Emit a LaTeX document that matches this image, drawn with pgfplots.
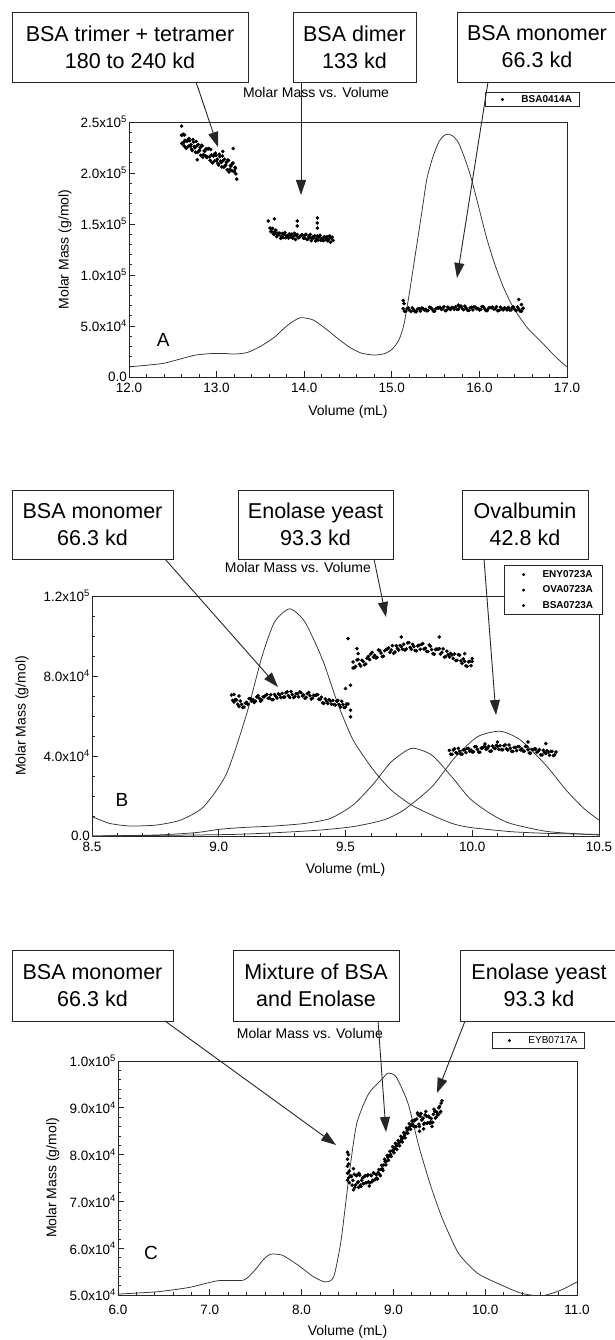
\documentclass[border=0pt]{standalone}
\usepackage{fontspec}
\setmainfont{Liberation Sans}
\usepackage{pgfplots}
\pgfplotsset{compat=1.18}
\usetikzlibrary{arrows.meta}

\pgfplotsset{
  panel/.style={
    scale only axis, anchor=south west,
    axis line style={line width=0.9pt, black!85},
    tick style={line width=0.7pt, black!85},
    major tick length=6pt, minor tick length=3pt,
    tick pos=left, tick align=inside,
    scaled ticks=false,
    tick label style={font=\fontsize{13.5}{14}\selectfont, black},
    yticklabel style={inner sep=2pt},
    xticklabel style={yshift=-3pt},
    xlabel={Volume (mL)}, ylabel={Molar Mass (g/mol)},
    title={Molar Mass vs. Volume},
    label style={font=\fontsize{14}{16}\selectfont},
    title style={font=\fontsize{14}{16}\selectfont, anchor=center},
    legend style={draw=black!85, line width=0.7pt, font=\fontsize{10}{11}\selectfont\bfseries,
      anchor=north west, legend cell align=left, inner xsep=5pt, inner ysep=1pt, row sep=0pt,
      /tikz/column 1/.style={column sep=7pt}},
    legend image code/.code={\path[draw=none,fill=none] (0pt,-2pt) rectangle (22pt,2pt); \draw[##1, mark size=1.1pt] plot coordinates {(12pt,0pt)};},
  },
  curve/.style={line width=0.75pt, black!80, smooth, tension=0.4, no marks, forget plot},
  dots/.style={only marks, mark=*, mark size=1.6pt, black},
}

\begin{document}
\begin{tikzpicture}
\useasboundingbox (0pt,0pt) rectangle (615pt,-1340pt);

% ================= Panel A =================
\begin{axis}[panel, at={(129pt,-377pt)}, width=438pt, height=255pt,
  xmin=12, xmax=17, ymin=0, ymax=250000,
  xtick={12,13,14,15,16,17}, xticklabels={12.0,13.0,14.0,15.0,16.0,17.0},
  ytick={0,50000,100000,150000,200000,250000},
  yticklabels={0.0,5.0x10\textsuperscript{4},1.0x10\textsuperscript{5},1.5x10\textsuperscript{5},2.0x10\textsuperscript{5},2.5x10\textsuperscript{5}},
  minor x tick num=4, minor y tick num=4,
  xlabel style={at={(axis description cs:0.5,-0.137)}, anchor=center},
  ylabel style={at={(axis description cs:-0.146,0.5)}, anchor=center},
  title style={at={(axis description cs:0.427,1.094)}},
  legend style={at={(axis description cs:0.813,1.118)}},
]
\addplot[curve] coordinates {(12.00,1.0e4)(12.20,1.15e4)(12.40,1.35e4)(12.60,1.8e4)(12.76,2.15e4)(12.94,2.3e4)(13.10,2.3e4)(13.21,2.25e4)(13.35,2.4e4)(13.50,3.0e4)(13.66,3.9e4)(13.80,5.0e4)(13.95,5.8e4)(14.10,5.6e4)(14.25,4.7e4)(14.38,3.8e4)(14.52,2.9e4)(14.65,2.35e4)(14.80,2.15e4)(14.92,2.3e4)(15.00,2.7e4)(15.08,3.6e4)(15.14,5.2e4)(15.20,8.2e4)(15.27,1.21e5)(15.34,1.60e5)(15.40,1.94e5)(15.47,2.16e5)(15.54,2.31e5)(15.60,2.37e5)(15.65,2.38e5)(15.70,2.36e5)(15.76,2.30e5)(15.83,2.15e5)(15.90,1.97e5)(16.00,1.64e5)(16.08,1.37e5)(16.17,1.12e5)(16.26,9.1e4)(16.35,7.4e4)(16.44,6.1e4)(16.55,4.8e4)(16.70,3.5e4)(16.80,2.6e4)(16.88,1.9e4)(16.95,1.35e4)(17.00,1.0e4)};
\addplot[dots] coordinates {
(12.600,2.370e5)(12.610,2.295e5)(12.620,2.380e5)(12.630,2.266e5)(12.640,2.321e5)(12.655,2.244e5)(12.670,2.326e5)(12.685,2.339e5)(12.700,2.262e5)(12.715,2.235e5)(12.730,2.328e5)(12.745,2.260e5)(12.760,2.203e5)(12.775,2.266e5)(12.790,2.279e5)(12.805,2.222e5)(12.820,2.174e5)(12.835,2.267e5)(12.850,2.180e5)(12.865,2.213e5)(12.880,2.236e5)(12.895,2.158e5)(12.910,2.241e5)(12.925,2.124e5)(12.940,2.177e5)(12.955,2.100e5)(12.970,2.182e5)(12.985,2.195e5)(13.000,2.118e5)(13.015,2.091e5)(13.030,2.184e5)(13.045,2.116e5)(13.060,2.059e5)(13.075,2.122e5)(13.090,2.135e5)(13.105,2.078e5)(13.120,2.030e5)(13.135,2.123e5)(13.150,2.036e5)(13.165,2.069e5)(13.180,2.092e5)(13.195,2.014e5)(13.210,2.057e5)(13.220,1.992e5)
(12.605,2.288e5)(12.615,2.373e5)(12.625,2.298e5)(12.635,2.373e5)(12.6475,2.247e5)(12.6625,2.310e5)(12.6775,2.263e5)(12.6925,2.316e5)(12.7075,2.278e5)(12.7225,2.221e5)(12.7375,2.304e5)(12.7525,2.247e5)(12.7675,2.310e5)(12.7825,2.202e5)(12.7975,2.215e5)(12.8125,2.248e5)(12.8275,2.271e5)(12.8425,2.154e5)(12.8575,2.216e5)(12.8725,2.169e5)(12.8875,2.152e5)(12.9025,2.235e5)(12.9175,2.158e5)(12.9325,2.230e5)(12.9475,2.103e5)(12.9625,2.166e5)(12.9775,2.119e5)(12.9925,2.172e5)(13.0075,2.134e5)(13.0225,2.077e5)(13.0375,2.160e5)(13.0525,2.103e5)(13.0675,2.166e5)(13.0825,2.058e5)(13.0975,2.071e5)(13.1125,2.104e5)(13.1275,2.127e5)(13.1425,2.010e5)(13.1575,2.072e5)(13.1725,2.025e5)(13.1875,2.098e5)(13.2025,2.021e5)(13.215,2.045e5)
(12.600,2.460e5)(12.780,2.130e5)(13.070,2.210e5)(13.190,2.240e5)(13.230,1.940e5)
(13.610,1.460e5)(13.625,1.423e5)(13.640,1.457e5)(13.655,1.400e5)(13.670,1.413e5)(13.685,1.376e5)(13.700,1.410e5)(13.720,1.410e5)(13.740,1.379e5)(13.760,1.367e5)(13.780,1.416e5)(13.800,1.385e5)(13.820,1.363e5)(13.840,1.392e5)(13.860,1.401e5)(13.880,1.379e5)(13.900,1.348e5)(13.920,1.397e5)(13.940,1.366e5)(13.960,1.384e5)(13.980,1.393e5)(14.000,1.362e5)(14.020,1.400e5)(14.040,1.349e5)(14.060,1.368e5)(14.080,1.336e5)(14.100,1.375e5)(14.120,1.384e5)(14.140,1.352e5)(14.160,1.341e5)(14.180,1.390e5)(14.200,1.359e5)(14.220,1.337e5)(14.240,1.366e5)(14.260,1.375e5)(14.280,1.353e5)(14.300,1.322e5)(14.320,1.371e5)(14.330,1.340e5)
(13.6175,1.427e5)(13.6325,1.450e5)(13.6475,1.403e5)(13.6625,1.426e5)(13.6775,1.440e5)(13.6925,1.393e5)(13.71,1.395e5)(13.73,1.359e5)(13.75,1.408e5)(13.77,1.397e5)(13.79,1.365e5)(13.81,1.384e5)(13.83,1.403e5)(13.85,1.372e5)(13.87,1.360e5)(13.89,1.409e5)(13.91,1.388e5)(13.93,1.366e5)(13.95,1.375e5)(13.97,1.394e5)(13.99,1.362e5)(14.01,1.391e5)(14.03,1.350e5)(14.05,1.378e5)(14.07,1.397e5)(14.09,1.356e5)(14.11,1.364e5)(14.13,1.333e5)(14.15,1.382e5)(14.17,1.371e5)(14.19,1.339e5)(14.21,1.358e5)(14.23,1.377e5)(14.25,1.345e5)(14.27,1.334e5)(14.29,1.383e5)(14.31,1.361e5)
(13.590,1.530e5)(13.660,1.550e5)(13.920,1.530e5)(13.920,1.480e5)(14.150,1.560e5)(14.150,1.510e5)(14.150,1.460e5)
(15.13,67.0e3)(15.16,64.6e3)(15.19,67.7e3)(15.22,64.3e3)(15.25,65.9e3)(15.28,64.0e3)(15.31,67.0e3)(15.34,67.6e3)(15.37,65.7e3)(15.40,64.8e3)(15.43,68.4e3)(15.46,66.5e3)(15.49,64.6e3)(15.52,67.7e3)(15.55,68.3e3)(15.58,66.8e3)(15.61,64.9e3)(15.64,68.5e3)(15.67,66.1e3)(15.70,67.7e3)(15.73,68.8e3)(15.76,66.4e3)(15.79,69.5e3)(15.82,66.0e3)(15.85,67.4e3)(15.88,65.4e3)(15.91,68.3e3)(15.94,68.8e3)(15.97,66.8e3)(16.00,65.7e3)(16.03,69.2e3)(16.06,67.1e3)(16.09,65.1e3)(16.12,68.0e3)(16.15,68.5e3)(16.18,66.9e3)(16.21,64.9e3)(16.24,68.4e3)(16.27,65.8e3)(16.30,67.3e3)(16.33,68.2e3)(16.36,65.7e3)(16.39,68.6e3)(16.42,65.1e3)(16.45,66.6e3)(16.48,64.5e3)(16.50,67.5e3)
(15.145,64.5e3)(15.175,67.1e3)(15.205,65.2e3)(15.235,67.8e3)(15.265,63.9e3)(15.295,66.5e3)(15.325,64.6e3)(15.355,67.2e3)(15.385,66.3e3)(15.415,65.4e3)(15.445,67.9e3)(15.475,64.5e3)(15.505,67.1e3)(15.535,67.7e3)(15.565,66.3e3)(15.595,68.9e3)(15.625,65.5e3)(15.655,67.1e3)(15.685,68.2e3)(15.715,66.3e3)(15.745,66.3e3)(15.775,68.9e3)(15.805,67.0e3)(15.835,69.5e3)(15.865,65.4e3)(15.895,67.9e3)(15.925,65.8e3)(15.955,68.3e3)(15.985,67.2e3)(16.015,66.2e3)(16.045,68.7e3)(16.075,65.1e3)(16.105,67.6e3)(16.135,68.0e3)(16.165,66.5e3)(16.195,68.9e3)(16.225,65.4e3)(16.255,66.9e3)(16.285,67.8e3)(16.315,65.8e3)(16.345,65.7e3)(16.375,68.2e3)(16.405,66.1e3)(16.435,68.6e3)(16.465,64.6e3)(16.495,67.0e3)
(15.13,75.0e3)(15.14,72.0e3)(16.45,76.0e3)(16.48,71.0e3)(15.76,70.5e3)
};
\addlegendentry{BSA0414A}
\node[font=\fontsize{19}{20}\selectfont] at (rel axis cs:0.078,0.145) {A};
\end{axis}

% ================= Panel B =================
\begin{axis}[panel, at={(92pt,-836pt)}, width=507pt, height=240pt,
  xmin=8.5, xmax=10.5, ymin=0, ymax=120000,
  xtick={8.5,9,9.5,10,10.5}, xticklabels={8.5,9.0,9.5,10.0,10.5},
  ytick={0,40000,80000,120000},
  yticklabels={0.0,4.0x10\textsuperscript{4},8.0x10\textsuperscript{4},1.2x10\textsuperscript{5}},
  minor x tick num=4, minor y tick num=3,
  xlabel style={at={(axis description cs:0.5,-0.142)}, anchor=center},
  ylabel style={at={(axis description cs:-0.138,0.5)}, anchor=center},
  title style={at={(axis description cs:0.406,1.092)}},
  legend style={at={(axis description cs:0.813,1.129)}, row sep=3pt, inner ysep=3pt, inner xsep=7pt},
]
\addplot[curve] coordinates {(8.50,9.7e3)(8.57,6.3e3)(8.65,5.0e3)(8.755,5.5e3)(8.85,8.0e3)(8.94,1.46e4)(9.03,3.1e4)(9.11,6.1e4)(9.17,8.95e4)(9.22,1.07e5)(9.28,1.136e5)(9.34,1.07e5)(9.41,8.8e4)(9.47,6.6e4)(9.53,4.8e4)(9.61,3.3e4)(9.68,2.3e4)(9.76,1.55e4)(9.84,1.05e4)(9.92,6.3e3)(9.99,4.3e3)(10.15,2.2e3)(10.30,1.3e3)(10.50,8e2)};
\addplot[curve] coordinates {(8.50,0)(8.755,5e2)(8.91,1.7e3)(9.00,3.3e3)(9.10,4.3e3)(9.22,5.0e3)(9.34,6.3e3)(9.44,8.8e3)(9.53,1.55e4)(9.61,2.6e4)(9.68,3.7e4)(9.76,4.38e4)(9.84,4.05e4)(9.92,2.95e4)(9.99,1.88e4)(10.07,1.13e4)(10.15,6.3e3)(10.30,2.2e3)(10.50,5e2)};
\addplot[curve] coordinates {(8.50,0)(9.06,8e2)(9.37,2.7e3)(9.53,4.7e3)(9.65,8.0e3)(9.73,1.3e4)(9.84,2.45e4)(9.93,3.9e4)(10.02,4.96e4)(10.11,5.24e4)(10.19,4.8e4)(10.29,3.55e4)(10.37,2.3e4)(10.44,1.38e4)(10.50,8.0e3)};
% Enolase
\addplot[dots] coordinates {
(9.53,87.0e3)(9.54,84.8e3)(9.55,88.2e3)(9.56,85.0e3)(9.57,87.2e3)(9.58,86.0e3)(9.59,89.8e3)(9.60,91.0e3)(9.61,89.5e3)(9.62,89.0e3)(9.63,93.0e3)(9.64,91.5e3)(9.65,89.9e3)(9.66,93.3e3)(9.67,94.1e3)(9.68,93.0e3)(9.69,91.3e3)(9.70,95.1e3)(9.71,93.0e3)(9.72,94.8e3)(9.73,95.9e3)(9.74,93.5e3)(9.75,96.7e3)(9.76,93.3e3)(9.77,94.7e3)(9.78,92.6e3)(9.79,95.4e3)(9.80,95.8e3)(9.81,93.5e3)(9.82,92.3e3)(9.83,95.5e3)(9.84,93.2e3)(9.85,90.9e3)(9.86,93.5e3)(9.87,93.7e3)(9.88,91.8e3)(9.89,89.4e3)(9.90,92.4e3)(9.91,89.5e3)(9.92,90.5e3)(9.93,91.0e3)(9.94,87.9e3)(9.95,90.4e3)(9.96,86.3e3)(9.97,87.3e3)(9.98,84.8e3)(9.99,87.3e3)(10.00,87.3e3)
(9.535,84.2e3)(9.545,88.0e3)(9.555,85.9e3)(9.565,87.9e3)(9.575,85.6e3)(9.585,88.9e3)(9.595,88.2e3)(9.605,91.8e3)(9.615,90.3e3)(9.625,89.3e3)(9.635,92.8e3)(9.645,89.7e3)(9.655,92.6e3)(9.665,93.5e3)(9.675,91.8e3)(9.685,95.2e3)(9.695,92.0e3)(9.705,93.8e3)(9.715,95.2e3)(9.725,93.4e3)(9.735,93.0e3)(9.745,96.6e3)(9.755,94.3e3)(9.765,95.8e3)(9.775,92.7e3)(9.785,95.0e3)(9.795,93.4e3)(9.805,96.2e3)(9.815,93.9e3)(9.825,92.2e3)(9.835,94.9e3)(9.845,91.1e3)(9.855,93.2e3)(9.865,93.4e3)(9.875,91.0e3)(9.885,93.6e3)(9.895,89.7e3)(9.905,90.7e3)(9.915,91.3e3)(9.925,88.8e3)(9.935,87.7e3)(9.945,90.7e3)(9.955,87.6e3)(9.965,88.6e3)(9.975,85.1e3)(9.985,87.1e3)(9.995,85.1e3)
(9.51,98.7e3)(9.545,93.7e3)(9.55,91.2e3)(9.72,99.5e3)(9.87,99.5e3)(9.97,91.2e3)(10.00,88.7e3)(9.53,84.0e3)
};
\addlegendentry{ENY0723A}
% Ovalbumin
\addplot[dots] coordinates {
(9.91,42.8e3)(9.92,40.9e3)(9.93,43.6e3)(9.94,41.2e3)(9.95,42.3e3)(9.96,41.0e3)(9.97,43.1e3)(9.98,43.7e3)(9.99,42.4e3)(10.00,42.0e3)(10.01,44.6e3)(10.02,43.3e3)(10.03,41.9e3)(10.04,44.0e3)(10.05,44.7e3)(10.06,43.8e3)(10.07,42.4e3)(10.08,45.0e3)(10.09,43.7e3)(10.10,44.8e3)(10.11,45.2e3)(10.12,43.1e3)(10.13,45.6e3)(10.14,43.0e3)(10.15,43.9e3)(10.16,42.3e3)(10.17,44.2e3)(10.18,44.7e3)(10.19,43.1e3)(10.20,42.5e3)(10.21,44.8e3)(10.22,43.1e3)(10.23,41.4e3)(10.24,43.2e3)(10.25,43.5e3)(10.26,42.3e3)(10.27,40.6e3)(10.28,42.9e3)(10.29,41.2e3)(10.30,42.0e3)(10.31,42.3e3)(10.32,40.2e3)(10.33,42.0e3)
(9.915,40.9e3)(9.925,43.0e3)(9.935,41.7e3)(9.945,43.8e3)(9.955,40.9e3)(9.965,43.1e3)(9.975,41.7e3)(9.985,43.8e3)(9.995,43.0e3)(10.005,42.1e3)(10.015,44.7e3)(10.025,41.9e3)(10.035,44.0e3)(10.045,44.6e3)(10.055,43.3e3)(10.065,44.9e3)(10.075,42.5e3)(10.085,44.1e3)(10.095,45.3e3)(10.105,43.3e3)(10.115,43.2e3)(10.125,45.1e3)(10.135,43.6e3)(10.145,45.5e3)(10.155,42.4e3)(10.165,44.3e3)(10.175,42.7e3)(10.185,44.7e3)(10.195,43.6e3)(10.205,42.4e3)(10.215,44.7e3)(10.225,41.5e3)(10.235,43.3e3)(10.245,43.6e3)(10.255,41.9e3)(10.265,43.2e3)(10.275,40.5e3)(10.285,41.8e3)(10.295,42.6e3)(10.305,40.4e3)(10.315,42.3e3)(10.325,40.6e3)
(10.10,47.0e3)(10.22,47.0e3)(10.29,46.2e3)(10.05,46.0e3)
};
\addlegendentry{OVA0723A}
% BSA
\addplot[dots] coordinates {
(9.05,70.5e3)(9.06,67.0e3)(9.07,68.0e3)(9.08,64.7e3)(9.09,65.8e3)(9.10,64.5e3)(9.11,66.8e3)(9.12,68.7e3)(9.13,67.5e3)(9.14,66.8e3)(9.15,69.5e3)(9.16,68.8e3)(9.17,68.0e3)(9.18,69.7e3)(9.19,70.8e3)(9.20,69.0e3)(9.21,68.1e3)(9.22,70.8e3)(9.23,69.0e3)(9.24,70.6e3)(9.25,71.3e3)(9.26,69.5e3)(9.27,72.1e3)(9.28,69.3e3)(9.29,70.7e3)(9.30,69.7e3)(9.31,71.1e3)(9.32,72.1e3)(9.33,70.0e3)(9.34,68.9e3)(9.35,71.2e3)(9.36,70.1e3)(9.37,68.9e3)(9.38,70.3e3)(9.39,70.7e3)(9.40,68.2e3)(9.41,66.6e3)(9.42,68.5e3)(9.43,66.3e3)(9.44,67.5e3)(9.45,67.8e3)(9.46,65.5e3)(9.47,67.8e3)(9.48,64.5e3)(9.49,65.8e3)(9.50,64.5e3)(9.51,66.0e3)
(9.055,67.8e3)(9.065,68.3e3)(9.075,65.9e3)(9.085,67.5e3)(9.095,64.2e3)(9.105,66.4e3)(9.115,65.8e3)(9.125,68.6e3)(9.135,68.2e3)(9.145,67.4e3)(9.155,70.2e3)(9.165,67.4e3)(9.175,69.6e3)(9.185,70.3e3)(9.195,68.9e3)(9.205,70.6e3)(9.215,68.2e3)(9.225,69.9e3)(9.235,71.1e3)(9.245,69.2e3)(9.255,69.4e3)(9.265,71.6e3)(9.275,70.2e3)(9.285,72.3e3)(9.295,69.2e3)(9.305,71.2e3)(9.315,69.6e3)(9.325,71.6e3)(9.335,70.5e3)(9.345,69.3e3)(9.355,71.7e3)(9.365,68.5e3)(9.375,70.4e3)(9.385,70.5e3)(9.395,68.5e3)(9.405,69.4e3)(9.415,66.3e3)(9.425,67.4e3)(9.435,68.2e3)(9.445,65.9e3)(9.455,65.7e3)(9.465,67.4e3)(9.475,65.7e3)(9.485,67.4e3)(9.495,64.2e3)(9.505,66.0e3)
(9.50,73.7e3)(9.52,75.4e3)(9.52,59.6e3)(9.52,62.9e3)(9.06,70.8e3)(9.08,70.0e3)
};
\addlegendentry{BSA0723A}
\node[font=\fontsize{19}{20}\selectfont] at (rel axis cs:0.059,0.15) {B};
\end{axis}

% ================= Panel C =================
\begin{axis}[panel, at={(118pt,-1295pt)}, width=459pt, height=234pt,
  xmin=6, xmax=11, ymin=50000, ymax=100000,
  xtick={6,7,8,9,10,11}, xticklabels={6.0,7.0,8.0,9.0,10.0,11.0},
  ytick={50000,60000,70000,80000,90000,100000},
  yticklabels={5.0x10\textsuperscript{4},6.0x10\textsuperscript{4},7.0x10\textsuperscript{4},8.0x10\textsuperscript{4},9.0x10\textsuperscript{4},1.0x10\textsuperscript{5}},
  minor x tick num=4, minor y tick num=4,
  xticklabel style={yshift=-4pt},
  xlabel style={at={(axis description cs:0.5,-0.158)}, anchor=center},
  ylabel style={at={(axis description cs:-0.142,0.5)}, anchor=center},
  title style={at={(axis description cs:0.418,1.090)}},
  legend style={at={(axis description cs:0.815,1.124)}, font=\fontsize{10}{11}\selectfont, inner ysep=2pt},
]
\addplot[curve] coordinates {(6.00,5.02e4)(6.43,5.07e4)(6.77,5.16e4)(6.98,5.26e4)(7.11,5.31e4)(7.37,5.32e4)(7.49,5.53e4)(7.58,5.75e4)(7.66,5.87e4)(7.79,5.85e4)(7.96,5.64e4)(8.13,5.39e4)(8.26,5.28e4)(8.35,5.39e4)(8.43,6.17e4)(8.52,7.6e4)(8.60,8.66e4)(8.73,9.3e4)(8.88,9.62e4)(8.94,9.74e4)(9.03,9.66e4)(9.16,9.09e4)(9.28,8.16e4)(9.41,7.31e4)(9.54,6.6e4)(9.71,5.89e4)(9.92,5.46e4)(10.18,5.21e4)(10.39,5.04e4)(10.61,4.98e4)(10.82,5.1e4)(11.00,5.28e4)};
\addplot[dots] coordinates {
(8.50,74.5e3)(8.50,76.0e3)(8.50,77.5e3)(8.50,79.0e3)(8.50,80.5e3)(8.51,75.0e3)(8.51,78.0e3)(8.51,80.0e3)(8.52,74.0e3)(8.52,76.5e3)
(8.535,75.5e3)(8.55,73.5e3)(8.565,77.0e3)(8.58,73.0e3)(8.595,75.5e3)(8.61,74.0e3)(8.625,76.0e3)(8.64,73.5e3)(8.655,74.5e3)(8.67,73.8e3)(8.685,75.3e3)(8.70,74.0e3)(8.715,75.5e3)(8.73,74.2e3)(8.745,74.0e3)(8.76,75.5e3)(8.775,74.5e3)(8.79,76.0e3)(8.805,74.8e3)(8.82,75.0e3)(8.835,76.2e3)(8.85,75.8e3)(8.865,76.8e3)(8.88,77.0e3)(8.895,77.8e3)(8.91,78.5e3)(8.925,78.6e3)(8.94,79.4e3)(8.955,79.8e3)(8.97,80.0e3)(8.985,80.8e3)(9.00,81.0e3)(9.015,81.3e3)(9.03,81.8e3)(9.045,82.0e3)(9.06,82.5e3)(9.075,82.8e3)(9.09,83.3e3)(9.105,83.6e3)(9.12,84.2e3)(9.135,84.6e3)(9.15,85.2e3)(9.165,85.5e3)(9.18,86.0e3)(9.195,86.3e3)(9.21,86.5e3)(9.225,87.2e3)(9.24,86.0e3)(9.255,87.6e3)(9.27,88.5e3)(9.285,86.0e3)(9.30,88.8e3)(9.315,87.5e3)(9.33,86.5e3)(9.345,88.5e3)(9.36,88.2e3)(9.375,86.8e3)(9.39,88.0e3)(9.405,87.0e3)(9.42,86.8e3)(9.435,88.6e3)(9.45,89.2e3)(9.465,88.0e3)(9.48,88.6e3)(9.495,90.0e3)(9.51,89.0e3)(9.52,91.0e3)(9.53,91.5e3)
(8.5425,75.3e3)(8.5575,74.5e3)(8.5725,75.8e3)(8.5875,73.5e3)(8.6025,75.6e3)(8.6175,74.2e3)(8.6325,75.6e3)(8.6475,73.2e3)(8.6625,75.0e3)(8.6775,73.8e3)(8.6925,75.5e3)(8.7075,74.0e3)(8.7225,75.7e3)(8.7375,73.3e3)(8.7525,75.6e3)(8.7675,74.2e3)(8.7825,76.1e3)(8.7975,74.6e3)(8.8125,75.7e3)(8.8275,74.8e3)(8.8425,76.8e3)(8.8575,75.5e3)(8.8725,77.7e3)(8.8875,76.6e3)(8.9025,79.0e3)(8.9175,77.8e3)(8.9325,79.8e3)(8.9475,78.8e3)(8.9625,80.7e3)(8.9775,79.6e3)(8.9925,81.7e3)(9.0075,80.4e3)(9.0225,82.4e3)(9.0375,81.1e3)(9.0525,83.0e3)(9.0675,81.9e3)(9.0825,83.9e3)(9.0975,82.7e3)(9.1125,84.7e3)(9.1275,83.6e3)(9.1425,85.7e3)(9.1575,84.6e3)(9.1725,86.6e3)(9.1875,85.4e3)(9.2025,87.2e3)(9.2175,86.1e3)(9.2325,87.4e3)(9.2475,86.0e3)(9.2625,88.9e3)(9.2775,86.5e3)(9.2925,88.2e3)(9.3075,87.4e3)(9.3225,87.8e3)(9.3375,86.7e3)(9.3525,89.2e3)(9.3675,86.7e3)(9.3825,88.2e3)(9.3975,86.7e3)(9.4125,87.7e3)(9.4275,86.9e3)(9.4425,89.7e3)(9.4575,87.8e3)(9.4725,89.1e3)(9.4875,88.5e3)(9.5025,90.3e3)(9.515,89.2e3)
(9.285,85.0e3)(9.33,85.5e3)(9.42,86.0e3)(8.565,72.5e3)(8.62,73.0e3)
};
\addlegendentry{EYB0717A}
\node[font=\fontsize{19}{20}\selectfont] at (rel axis cs:0.072,0.18) {C};
\end{axis}

% ================= Annotations =================
\begin{scope}[x=1pt,y=-1pt, line width=0.9pt, black!85]
\tikzset{arr/.style={-{Triangle[length=15pt,width=10pt]}, line width=0.9pt}}
\tikzset{lbl/.style={align=center, font=\fontsize{21.5}{27}\selectfont, text=black}}
% A
\draw (12,12) rectangle (248,82);   \node[lbl] at (130,47) {BSA trimer + tetramer\\180 to 240 kd};
\draw (293,12) rectangle (416,82);  \node[lbl] at (354.5,47) {BSA dimer\\133 kd};
\draw (457,12) rectangle (617,82);  \node[lbl] at (537,47) {BSA monomer\\66.3 kd};
\draw[arr] (196,82) -- (218,147);
\draw[arr] (301,82) -- (301,195);
\draw[arr] (488,82) -- (457,278);
% B
\draw (12,490) rectangle (173,559);  \node[lbl] at (92.5,524.5) {BSA monomer\\66.3 kd};
\draw (238,490) rectangle (393,559); \node[lbl] at (315.5,524.5) {Enolase yeast\\93.3 kd};
\draw (462,490) rectangle (588,559); \node[lbl] at (525,524.5) {Ovalbumin\\42.8 kd};
\draw[arr] (165,559) -- (278,687);
\draw[arr] (374,559) -- (386,617);
\draw[arr] (484,559) -- (496,715);
% C
\draw (12,950) rectangle (173,1021);  \node[lbl] at (92.5,985.5) {BSA monomer\\66.3 kd};
\draw (233,950) rectangle (399,1021); \node[lbl] at (316,985.5) {Mixture of BSA\\and Enolase};
\draw (460,950) rectangle (617,1021); \node[lbl] at (539,985.5) {Enolase yeast\\93.3 kd};
\draw[arr] (165,1021) -- (336,1145);
\draw[arr] (378,1021) -- (386,1132);
\draw[arr] (465,1021) -- (437,1093);
\end{scope}
\end{tikzpicture}
\end{document}
